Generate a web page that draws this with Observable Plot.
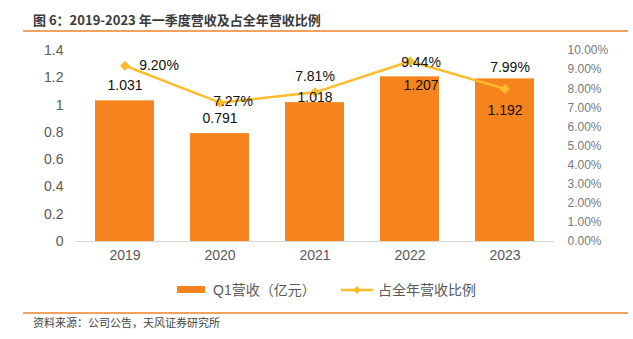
<!DOCTYPE html>
<html><head><meta charset="utf-8">
<script src="https://cdn.jsdelivr.net/npm/d3@7"></script>
<script src="https://cdn.jsdelivr.net/npm/@observablehq/plot@0.6"></script>
<style>
body{margin:0;width:633px;height:339px;position:relative;background:#fff;overflow:hidden;font-family:"Liberation Sans",Arial,"Noto Sans CJK SC",sans-serif;}
#title{position:absolute;left:33px;top:12px;font-weight:bold;font-size:13px;font-family:"Noto Sans CJK SC",sans-serif;color:#3a3a3a;line-height:16px;white-space:nowrap}
.rule{position:absolute;left:23px;width:605px;height:2px;background:#F2A15F}
#chart{position:absolute;left:0;top:40px}
.leg{position:absolute;font-size:14px;color:#595959;line-height:18px;white-space:nowrap}
#source{position:absolute;left:33px;top:315px;font-size:11px;font-family:"Noto Sans CJK SC",sans-serif;color:#444;line-height:14px;white-space:nowrap}
</style></head>
<body>
<div id="title">图 6：2019-2023 年一季度营收及占全年营收比例</div>
<div class="rule" style="top:30px"></div>
<div id="chart"></div>
<svg style="position:absolute;left:177px;top:286px" width="28" height="8"><rect width="28" height="7" fill="#F5841F"/></svg>
<div class="leg" style="left:213px;top:281px">Q1营收（亿元）</div>
<svg style="position:absolute;left:341px;top:284px" width="32" height="12"><line x1="0" x2="32" y1="6" y2="6" stroke="#FBBD2C" stroke-width="2.5"/><path d="M16,2L20,6L16,10L12,6Z" fill="#FBBD2C"/></svg>
<div class="leg" style="left:378px;top:281px">占全年营收比例</div>
<div class="rule" style="top:312px;height:2px"></div>
<div id="source">资料来源：公司公告，天风证券研究所</div>
<script>
const years = ["2019", "2020", "2021", "2022", "2023"];
const revenue = [1.031, 0.791, 1.018, 1.207, 1.192];
const share = [9.20, 7.27, 7.81, 9.44, 7.99];
const leftTicks = [0, 0.2, 0.4, 0.6, 0.8, 1, 1.2, 1.4];
const rightTicks = [0, 1, 2, 3, 4, 5, 6, 7, 8, 9, 10];

const K = 1.4 / 10; // maps percent onto left axis
const rows = years.map((y, i) => ({year: y, rev: revenue[i], pct: share[i], py: share[i] * K}));

const revOffsets = [[0, -15.5], [0, -15], [0, -5.5], [11, 8.6], [0, 32]];
const pctOffsets = [[34, 0], [13, -1], [0, -16], [11, 1], [5, -21]];

const marks = [
  Plot.barY(rows, {x: "year", y: "rev", fill: "#F5841F"}),
  Plot.ruleY([0], {stroke: "#d9d9d9", strokeWidth: 1}),
  Plot.line(rows, {x: "year", y: "py", stroke: "#FBBD2C", strokeWidth: 2.5}),
  Plot.dot(rows, {x: "year", y: "py", symbol: "square", rotate: 45, r: 4, fill: "#FBBD2C"}),
  Plot.axisY(leftTicks, {anchor: "left", tickSize: 0, tickPadding: 12, fontSize: 14, fill: "#595959", label: null,
    tickFormat: d => String(Math.round(d * 10) / 10)}),
  Plot.axisY(rightTicks.map(v => v * K), {anchor: "right", tickSize: 0, tickPadding: 13, fontSize: 12, fill: "#7a7a7a", label: null,
    tickFormat: d => (Math.round(d / K * 100) / 100).toFixed(2) + "%"}),
  Plot.axisX({tickSize: 0, tickPadding: 9, fontSize: 14, fill: "#595959", label: null})
];
rows.forEach((r, i) => {
  marks.push(Plot.text([r], {x: "year", y: "rev", text: d => d.rev.toFixed(3), dx: revOffsets[i][0], dy: revOffsets[i][1], fontSize: 14, fill: "#111"}));
  marks.push(Plot.text([r], {x: "year", y: "py", text: d => d.pct.toFixed(2) + "%", dx: pctOffsets[i][0], dy: pctOffsets[i][1], fontSize: 14, fill: "#111"}));
});

const chart = Plot.plot({
  width: 633,
  height: 230,
  marginTop: 10,
  marginBottom: 29,
  marginLeft: 75,
  marginRight: 79,
  style: {fontFamily: "'Liberation Sans', Arial, sans-serif", background: "transparent"},
  x: {domain: years, paddingInner: 0.38, paddingOuter: 0.19, axis: null},
  y: {domain: [0, 1.4], axis: null},
  marks
});
document.getElementById("chart").appendChild(chart);
</script>
</body></html>
